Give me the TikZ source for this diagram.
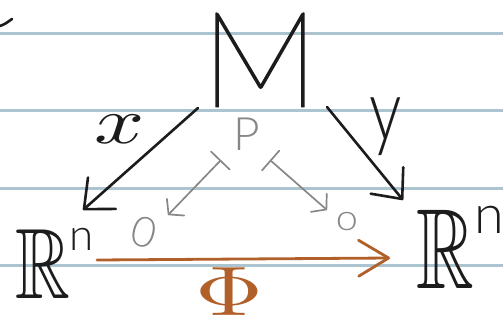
\documentclass[tikz,border=0pt]{standalone}
\usepackage{amssymb}
\usepackage{graphicx}
\usepackage[no-math]{fontspec}
\usetikzlibrary{arrows.meta}
\IfFontExistsTF{Lato Thin}{\newfontfamily\thinfont[FakeBold=1.6]{Lato Thin}}{%
  \IfFontExistsTF{Lato Light}{\newfontfamily\thinfont{Lato Light}}{\newfontfamily\thinfont{Lato}}}
\IfFontExistsTF{Lato Light}{\newfontfamily\lightfont{Lato Light}}{\newfontfamily\lightfont{Lato}}
\definecolor{ruleblue}{RGB}{172,196,207}
\definecolor{inkblack}{RGB}{28,28,28}
\definecolor{inkgrey}{RGB}{135,135,135}
\definecolor{inkorange}{RGB}{178,96,42}
\begin{document}
\begin{tikzpicture}[x=1pt,y=-1pt,
  ruled/.style={draw=ruleblue,line width=3pt},
  txt/.style={inner sep=0pt,outer sep=0pt},
  ink/.style={draw=inkblack,line width=2.6pt,line cap=round,line join=round},
  inkarrow/.style={ink,-{Straight Barb[length=24pt,width=42pt,round]}},
  greymap/.style={draw=inkgrey,line width=1.7pt,line cap=round,
    {Bar[width=26pt,round]}-{Straight Barb[length=10pt,width=24pt,round]}},
  orangearrow/.style={draw=inkorange,line width=2.8pt,line cap=round,
    -{Straight Barb[length=30pt,width=36pt,round]}}]
\useasboundingbox (0,0) rectangle (503,321);
\fill[white] (0,0) rectangle (503,321);
% ruled paper lines
\draw[ruled] (0,34) -- (503,34);
\draw[ruled] (0,110) -- (503,110);
\draw[ruled] (0,188) -- (503,188);
\draw[ruled] (0,265) -- (503,265);
% stray stroke at top left
\draw[ink] (0,26) .. controls (5,24) .. (12,19);
% nodes
\node[txt,text=inkblack] (M) at (260,60) {\fontsize{132}{132}\selectfont\thinfont M};
\node[txt,text=inkblack,anchor=base west] (R1) at (16,298)
  {\scalebox{7.6}[10]{$\mathbb{R}$}\hspace{-1pt}\raisebox{48pt}{\fontsize{44}{44}\selectfont\lightfont n}};
\node[txt,text=inkblack,anchor=base west] (R2) at (416,288)
  {\scalebox{8}[11.4]{$\mathbb{R}$}\hspace{1pt}\raisebox{55pt}{\fontsize{54}{54}\selectfont\lightfont n}};
\node[txt,text=inkblack,xscale=8.8,yscale=6.6] (xl) at (120,129) {$x$};
\node[txt,text=inkblack,xscale=0.75] (yl) at (386,127) {\fontsize{86}{86}\selectfont\lightfont y};
\node[txt,text=inkgrey] (P) at (247,134) {\fontsize{46}{46}\selectfont\lightfont P};
\node[txt,text=inkgrey,rotate=-15] (z1) at (144,232) {\fontsize{42}{42}\selectfont\lightfont 0};
\node[txt,text=inkgrey,xscale=1.1] (z2) at (347,222) {\fontsize{36}{36}\selectfont\lightfont o};
\node[txt,text=inkorange,xscale=9.4,yscale=7.0] (Phi) at (229,292) {$\Phi$};
% connector end points
\coordinate (xs) at (198,108);
\coordinate (xe) at (83,210);
\coordinate (ys) at (327,107);
\coordinate (ye) at (403,200);
\coordinate (ps1) at (221,160);
\coordinate (pe1) at (168,215);
\coordinate (ps2) at (270,160);
\coordinate (pe2) at (327,210);
\coordinate (fs) at (97,260);
\coordinate (fe) at (390,258);
% connectors
\draw[inkarrow] (xs) -- (xe);
\draw[inkarrow] (ys) -- (ye);
\draw[greymap] (ps1) -- (pe1);
\draw[greymap] (ps2) -- (pe2);
\draw[orangearrow] (fs) -- (fe);
\end{tikzpicture}
\end{document}
